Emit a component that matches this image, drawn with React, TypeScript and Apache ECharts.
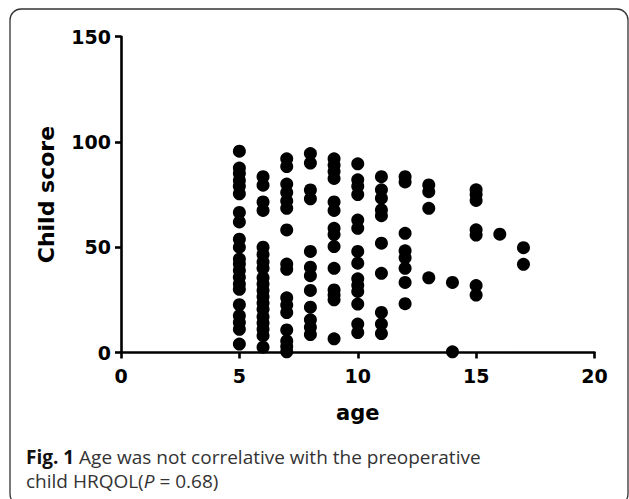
import React, { useEffect, useRef } from "react";
import * as echarts from "echarts";

const ages = [5, 6, 7, 8, 9, 10, 11, 12, 13, 14, 15, 16, 17];
const score5 = [95.6, 87.6, 85, 81.7, 79, 75.4, 66.5, 62, 53.8, 50, 44.4, 42, 38.9, 35.7, 32.5, 30, 22.7, 17.5, 14.3, 11, 4];
const score6 = [83.5, 79.5, 71.5, 67.5, 50, 46.5, 43, 40, 35.5, 32.5, 29.5, 26.5, 23.5, 20.5, 17, 14, 11, 8, 2.5];
const score7 = [92, 88.3, 80, 76, 72, 68.5, 58.2, 42, 39.5, 26, 22.6, 19, 10.7, 5.5, 2.8, 0.3];
const score8 = [94.5, 90, 77.2, 73, 48, 40.5, 36.5, 29.5, 21.5, 15.5, 12, 8.5];
const score9 = [92, 89, 86, 82.7, 71.5, 67.5, 59, 56, 50.3, 40, 29.7, 27.3, 25, 6.5];
const score10 = [89.6, 82, 79, 75, 62.9, 59, 48, 42.4, 35, 32, 29, 23, 13.5, 9.5];
const score11 = [83.5, 77.3, 73.3, 67.7, 65, 51.9, 37.6, 19, 13.5, 9];
const score12 = [83.5, 81, 56.6, 48.3, 45, 40, 33.3, 23.2];
const score13 = [79.6, 76.4, 68.5, 35.5];
const score14 = [33.3, 0.3];
const score15 = [77.3, 75, 72.2, 58.3, 55.8, 31.8, 27.3];
const score16 = [56.2];
const score17 = [49.8, 41.9];
const scoresByAge = [score5, score6, score7, score8, score9, score10, score11, score12, score13, score14, score15, score16, score17];

const xAxisTitle = "age";
const yAxisTitle = "Child score";
const captionLine1 = ["Fig. 1", " Age was not correlative with the preoperative"];
const captionLine2 = ["child HRQOL(", "P", " = 0.68)"];

export default function App() {
  const ref = useRef<HTMLDivElement>(null);
  useEffect(() => {
    const chart = echarts.init(ref.current!, null, { renderer: "svg" });
    const data: number[][] = [];
    ages.forEach((a, i) => scoresByAge[i].forEach((s) => data.push([a, s])));
    const axisFont = { fontFamily: "DejaVu Sans", fontWeight: "bold" as const, color: "#000" };
    const lineStyle = { color: "#000", width: 2.6 };
    chart.setOption({
      animation: false,
      backgroundColor: "#fff",
      grid: { left: 121, right: 34.5, top: 36.7, bottom: 146.5, containLabel: false },
      xAxis: {
        type: "value",
        min: 0,
        max: 20,
        interval: 5,
        name: xAxisTitle,
        nameLocation: "middle",
        nameGap: 50,
        nameTextStyle: { ...axisFont, fontSize: 21 },
        axisLine: { show: true, onZero: false, lineStyle },
        axisTick: { show: true, inside: false, length: 6, lineStyle },
        axisLabel: { ...axisFont, fontSize: 19, margin: 14 },
        splitLine: { show: false },
      },
      yAxis: {
        type: "value",
        min: 0,
        max: 150,
        interval: 50,
        name: yAxisTitle,
        nameLocation: "middle",
        nameRotate: 90,
        nameGap: 64,
        nameTextStyle: { ...axisFont, fontSize: 22 },
        axisLine: { show: true, onZero: false, lineStyle },
        axisTick: { show: true, inside: false, length: 6, lineStyle },
        axisLabel: { ...axisFont, fontSize: 19, margin: 10 },
        splitLine: { show: false },
      },
      series: [
        {
          type: "scatter",
          data,
          symbol: "circle",
          symbolSize: 13,
          itemStyle: { color: "#000", opacity: 1 },
        },
      ],
      graphic: [
        {
          type: "rect",
          shape: { x: 10, y: 9, width: 618, height: 496, r: 11 },
          style: { fill: "none", stroke: "#333", lineWidth: 1.3 },
          silent: true,
        },
        {
          type: "text",
          x: 26,
          y: 457,
          style: {
            text: `{b|${captionLine1[0]}}{r|${captionLine1[1]}}`,
            verticalAlign: "middle",
            rich: {
              b: { fontFamily: "Open Sans", fontWeight: "bold", fontSize: 19, fill: "#111" },
              r: { fontFamily: "Open Sans", fontSize: 19, fill: "#333" },
            },
          },
        },
        {
          type: "text",
          x: 26,
          y: 481,
          style: {
            text: `{r|${captionLine2[0]}}{i|${captionLine2[1]}}{r|${captionLine2[2]}}`,
            verticalAlign: "middle",
            rich: {
              r: { fontFamily: "Open Sans", fontSize: 19, fill: "#333" },
              i: { fontFamily: "Open Sans", fontStyle: "italic", fontSize: 19, fill: "#333" },
            },
          },
        },
      ],
    });
    return () => chart.dispose();
  }, []);
  return <div ref={ref} style={{ position: "absolute", left: 0, top: 0, width: 629, height: 499 }} />;
}
